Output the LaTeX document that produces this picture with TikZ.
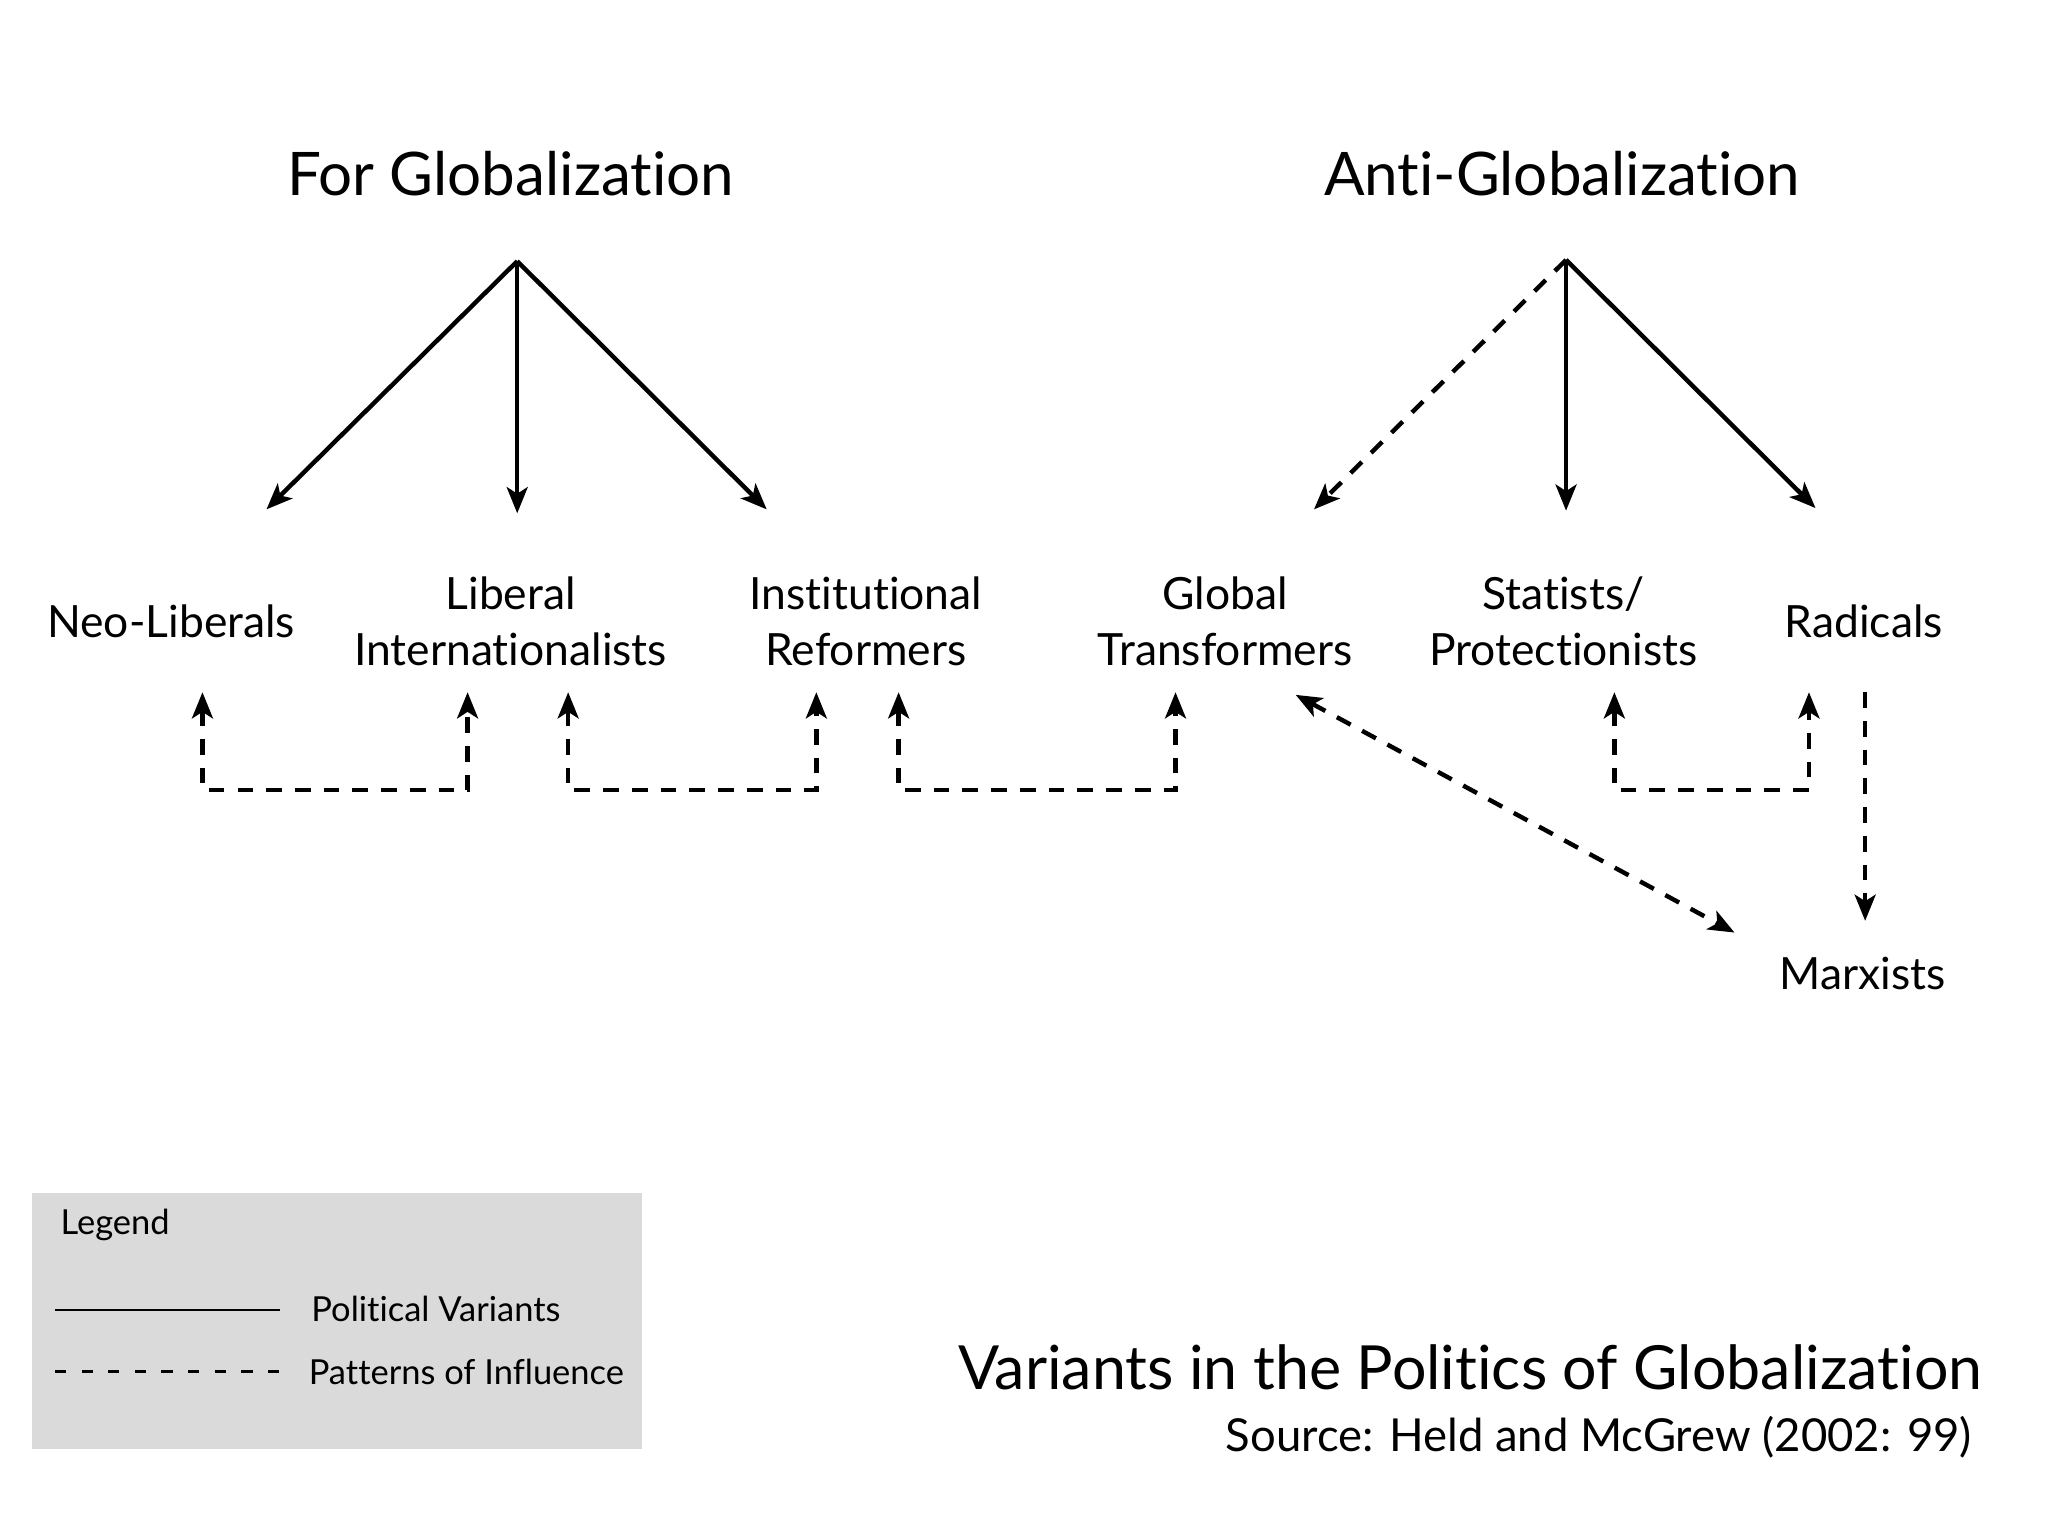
\documentclass[tikz,border=0pt]{standalone}
\usepackage{fontspec}
\setmainfont{Lato}[Ligatures={NoCommon,NoRare,NoDiscretionary}]
\usetikzlibrary{arrows.meta}
\definecolor{legendgray}{RGB}{218,218,218}
\tikzset{
  stl/.tip={Stealth[length=10pt,width=8pt,inset=2.5pt]},
  tip/.style={-stl},
  variant/.style={line width=1.7pt, tip},
  infl/.style={line width=1.7pt, dash pattern=on 6pt off 5pt, tip},
  both/.style={stl-stl},
  lbl/.style={font=\fontsize{17}{21.5}\selectfont, align=center, inner sep=0pt},
  head/.style={font=\fontsize{23}{28}\selectfont, inner sep=0pt},
  legtxt/.style={font=\fontsize{13.2}{16}\selectfont, inner sep=0pt, anchor=west},
}
\begin{document}
\begin{tikzpicture}[x=0.5pt,y=-0.5pt]
\useasboundingbox (0,0) rectangle (1568,1176);

% headings
\node[head] (forg) at (391,133) {For Globalization};
\node[head] (antig) at (1196,133) {Anti-Globalization};
\coordinate (forapex) at (396,200);
\coordinate (antiapex) at (1199,199);

% labels
\node[lbl] (neo) at (131,476) {Neo-Liberals};
\node[lbl] (libint) at (391,476) {Liberal\\Internationalists};
\node[lbl] (inst) at (663,476) {Institutional\\Reformers};
\node[lbl] (glob) at (938,476) {Global\\Transformers};
\node[lbl] (stat) at (1197,476) {Statists/\\Protectionists};
\node[lbl] (rad) at (1427,476) {Radicals};
\node[lbl] (marx) at (1426,745) {Marxists};

% tips of political variants
\coordinate (t1) at (204,390);
\coordinate (t2) at (396,393);
\coordinate (t3) at (587,390);
\coordinate (t4) at (1006,390);
\coordinate (t5) at (1199,391);
\coordinate (t6) at (1390,389);

\draw[variant] (forapex) -- (t1);
\draw[variant] (forapex) -- (t2);
\draw[variant] (forapex) -- (t3);
\draw[infl] (antiapex) -- (t4);
\draw[variant] (antiapex) -- (t5);
\draw[variant] (antiapex) -- (t6);

% influence brackets
\coordinate (b1a) at (155,530); \coordinate (b1b) at (358,530);
\coordinate (b2a) at (435,530); \coordinate (b2b) at (625,530);
\coordinate (b3a) at (688,530); \coordinate (b3b) at (900,530);
\coordinate (b4a) at (1236,530); \coordinate (b4b) at (1385,530);
\draw[infl,both] (b1a) -- ++(0,75) -| (b1b);
\draw[infl,both] (b2a) -- ++(0,75) -| (b2b);
\draw[infl,both] (b3a) -- ++(0,75) -| (b3b);
\draw[infl,both] (b4a) -- ++(0,75) -| (b4b);

% radicals to marxists
\coordinate (r1) at (1428,530);
\coordinate (r2) at (1428,705);
\draw[infl] (r1) -- (r2);

% global transformers <-> marxists
\coordinate (g1) at (992,532);
\coordinate (g2) at (1328,714);
\draw[infl,both] (g1) -- (g2);

% legend
\node[draw=none, fill=legendgray, minimum width=467*0.5pt, minimum height=196*0.5pt, anchor=north west, inner sep=0pt] (legbox) at (24,913) {};
\node[legtxt] (legt) at (46,938) {Legend};
\coordinate (ls1) at (42,1003); \coordinate (ls2) at (214,1003);
\coordinate (ld1) at (42,1050); \coordinate (ld2) at (214,1050);
\draw[line width=1.1pt] (ls1) -- (ls2);
\draw[line width=1.1pt, dash pattern=on 4.3pt off 5.9pt] (ld1) -- (ld2);
\node[legtxt] (legpv) at (238,1002) {Political Variants};
\node[legtxt] (legpi) at (236,1050) {Patterns of Influence};

% title
\node[font=\fontsize{23.3}{28}\selectfont, inner sep=0pt, anchor=east] (title) at (1518,1047) {Variants in the Politics of Globalization};
\node[font=\fontsize{17.4}{22}\selectfont, inner sep=0pt, anchor=east] (source) at (1510,1100) {Source: Held and McGrew (2002: 99)};
\end{tikzpicture}
\end{document}
